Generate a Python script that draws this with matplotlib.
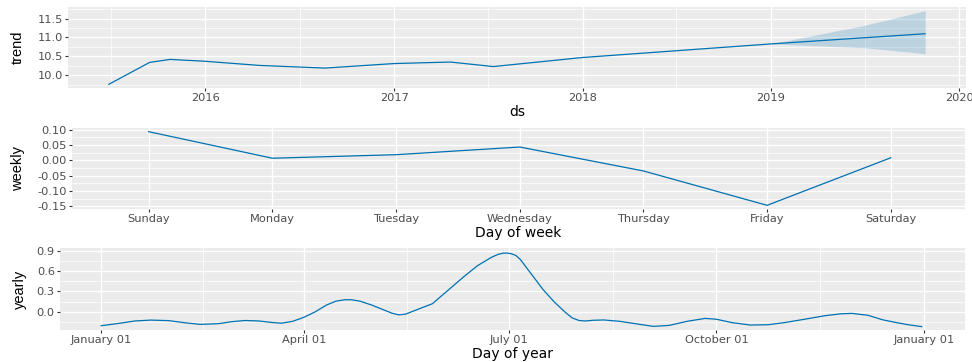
import numpy as np
import matplotlib.pyplot as plt
import matplotlib.dates as mdates
from matplotlib.ticker import FixedLocator
from datetime import date

# trend component (piecewise linear between changepoints)
trend_dates = ["2015-06-28", "2015-09-15", "2015-10-25", "2016-01-01", "2016-04-15",
               "2016-08-20", "2017-01-01", "2017-04-20", "2017-07-12", "2018-01-01",
               "2019-01-01", "2019-10-27"]
trend_vals = [9.76, 10.34, 10.42, 10.37, 10.26, 10.19, 10.31, 10.35, 10.23, 10.47, 10.83, 11.10]
band_dates = ["2019-01-01", "2019-07-01", "2019-10-27"]
band_upper = [10.83, 11.32, 11.71]
band_lower = [10.83, 10.73, 10.57]

# weekly seasonality
week_days = ["Sunday", "Monday", "Tuesday", "Wednesday", "Thursday", "Friday", "Saturday"]
weekly_vals = [0.093, 0.0065, 0.018, 0.043, -0.035, -0.147, 0.008]

# yearly seasonality (day of year)
year_days = [0, 8, 15, 22, 30, 38, 44, 52, 58, 64, 70, 76, 80, 85, 90, 95, 100, 104, 108,
             111, 115, 120, 126, 129, 132, 135, 140, 147, 154, 161, 167, 173, 176, 178, 180,
             182, 184, 186, 191, 196, 201, 206, 209, 212, 215, 218, 223, 230, 238, 245, 252,
             260, 268, 273, 280, 288, 296, 303, 312, 321, 328, 333, 340, 347, 353, 358, 364]
yearly_vals = [-0.205, -0.17, -0.135, -0.122, -0.13, -0.165, -0.185, -0.175, -0.145, -0.128,
               -0.135, -0.158, -0.168, -0.14, -0.08, 0.00, 0.10, 0.155, 0.178,
               0.178, 0.155, 0.10, 0.02, -0.02, -0.045, -0.035, 0.03, 0.12, 0.32, 0.52,
               0.68, 0.80, 0.845, 0.862, 0.866, 0.855, 0.83, 0.77, 0.55, 0.33, 0.146, -0.01,
               -0.09, -0.128, -0.135, -0.125, -0.12, -0.14, -0.18, -0.215, -0.2,
               -0.14, -0.097, -0.11, -0.16, -0.195, -0.19, -0.16, -0.11, -0.058, -0.03,
               -0.023, -0.05, -0.12, -0.16, -0.19, -0.218]
year_ticks = [0, 90, 181, 273, 365]
year_tick_labels = ["January 01", "April 01", "July 01", "October 01", "January 01"]

LINE = "#0072B2"
YLAB_FONT = ["Liberation Sans", "DejaVu Sans"]


def to_num(ds):
    return [mdates.date2num(date.fromisoformat(d)) for d in ds]


def expand(lo, hi, f=0.05):
    span = hi - lo
    return lo - f * span, hi + f * span


def gg_axes(ax):
    ax.set_facecolor("#EBEBEB")
    for s in ax.spines.values():
        s.set_visible(False)
    ax.grid(which="major", color="white", lw=1.0)
    ax.grid(which="minor", color="white", lw=0.5)
    ax.set_axisbelow(True)
    ax.tick_params(which="major", length=2.5, width=0.8, color="#333333",
                   labelcolor="#4D4D4D", labelsize=8.2, pad=1.2)
    ax.tick_params(which="minor", length=0)


fig = plt.figure(figsize=(9.72, 3.62), dpi=100)
W, H = 972, 362


def px_axes(left, top, right, bottom):
    return fig.add_axes([left / W, 1 - bottom / H, (right - left) / W, (bottom - top) / H])


def labels(ax, xl, yl, xl_y, yl_x):
    ax.set_xlabel(xl, fontsize=10, color="black")
    ax.xaxis.set_label_coords(0.5, xl_y)
    ax.xaxis.label.set_va("center")
    ax.set_ylabel(yl, fontsize=10.5, family=YLAB_FONT, color="black")
    ax.yaxis.set_label_coords(yl_x, 0.5)
    ax.yaxis.label.set_va("center")


# --- trend ---
ax1 = px_axes(68, 7, 966, 88)
gg_axes(ax1)
tx = to_num(trend_dates)
bx = to_num(band_dates)
ax1.fill_between(bx, band_lower, band_upper, color=LINE, alpha=0.2, lw=0)
ax1.plot(tx, trend_vals, color=LINE, lw=0.9)
ax1.set_xlim(*expand(tx[0], tx[-1]))
ax1.set_ylim(*expand(min(trend_vals), max(band_upper)))
years = [2016, 2017, 2018, 2019, 2020]
ax1.set_xticks(to_num([f"{y}-01-01" for y in years]))
ax1.set_xticklabels([str(y) for y in years])
ax1.xaxis.set_minor_locator(FixedLocator(to_num([f"{y}-07-02" for y in range(2015, 2020)])))
ax1.set_yticks([10.0, 10.5, 11.0, 11.5])
ax1.set_yticklabels(["10.0", "10.5", "11.0", "11.5"])
ax1.yaxis.set_minor_locator(FixedLocator([9.75, 10.25, 10.75, 11.25, 11.75]))
labels(ax1, "ds", "trend", -0.30, (18 - 68) / 898)

# --- weekly ---
ax2 = px_axes(72, 128, 965, 209)
gg_axes(ax2)
wx = np.arange(len(week_days))
ax2.plot(wx, weekly_vals, color=LINE, lw=0.9)
ax2.set_xlim(-0.62, 6.6)
ax2.set_ylim(*expand(min(weekly_vals), max(weekly_vals)))
ax2.set_xticks(wx)
ax2.set_xticklabels(week_days)
yt = [-0.15, -0.10, -0.05, 0.0, 0.05, 0.10]
ax2.set_yticks(yt)
ax2.set_yticklabels([f"{v:.2f}" for v in yt])
ax2.yaxis.set_minor_locator(FixedLocator([-0.125, -0.075, -0.025, 0.025, 0.075]))
labels(ax2, "Day of week", "weekly", -0.30, (18 - 72) / 893)

# --- yearly ---
ax3 = px_axes(60, 248, 965, 330)
gg_axes(ax3)
ax3.plot(year_days, yearly_vals, color=LINE, lw=0.9)
ax3.set_xlim(*expand(0, 365))
ax3.set_ylim(-0.268, 0.94)
ax3.set_xticks(year_ticks)
ax3.set_xticklabels(year_tick_labels)
ax3.xaxis.set_minor_locator(FixedLocator([45, 135.5, 227, 319]))
ax3.set_yticks([0.0, 0.3, 0.6, 0.9])
ax3.set_yticklabels(["0.0", "0.3", "0.6", "0.9"])
ax3.yaxis.set_minor_locator(FixedLocator([-0.15, 0.15, 0.45, 0.75]))
labels(ax3, "Day of year", "yearly", -0.29, (20 - 60) / 905)

fig.savefig("out.png", dpi=100)
